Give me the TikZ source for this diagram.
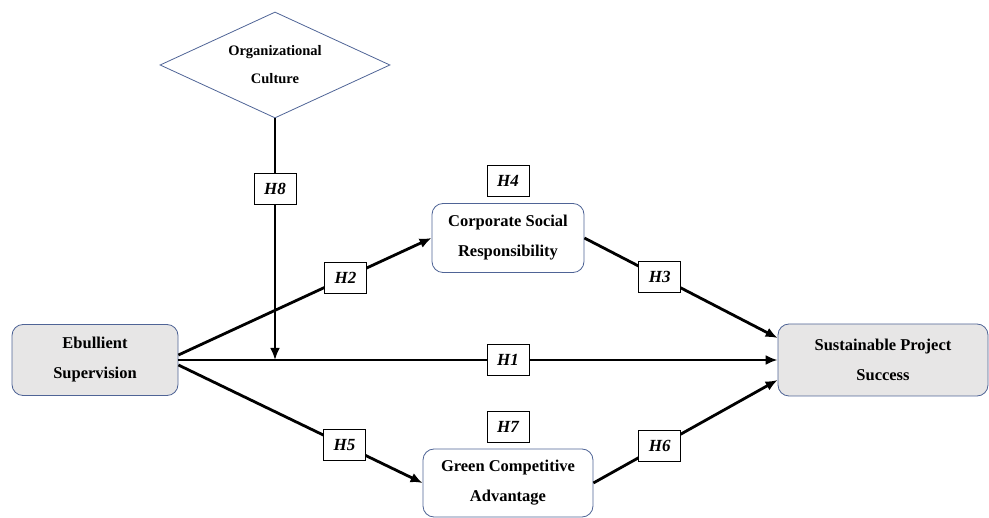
\documentclass[tikz,border=0pt]{standalone}
\usepackage{fontspec}
\setmainfont{Liberation Serif}
\usetikzlibrary{shapes.geometric,arrows.meta}
\definecolor{bordc}{HTML}{4F6496}
\definecolor{grayfill}{HTML}{E7E6E6}
\tikzset{
  mainbox/.style={draw=bordc, line width=0.8pt, rounded corners=11pt, align=center,
    font=\fontsize{16.5pt}{30pt}\selectfont\bfseries, inner sep=0pt},
  graybox/.style={mainbox, fill=grayfill},
  whitebox/.style={mainbox, fill=white},
  hyp/.style={draw=black, line width=0.7pt, fill=white, minimum width=42pt, minimum height=31pt,
    inner sep=0pt, font=\fontsize{17pt}{18pt}\selectfont\bfseries\itshape},
  conn/.style={line width=2.8pt, -{Latex[length=12pt,width=10pt]}},
}
\begin{document}
\begin{tikzpicture}[x=1pt,y=-1pt]
\useasboundingbox (0,0) rectangle (989,518);
\node[draw=bordc, line width=0.8pt, shape=diamond, aspect=2.17, minimum width=230pt, minimum height=106pt,
  inner sep=0pt, align=center, font=\fontsize{14.5pt}{28pt}\selectfont\bfseries] (oc) at (275,65) {Organizational\\Culture};
\node[graybox, minimum width=166pt, minimum height=71pt] (eb) at (95,360) {Ebullient\\Supervision};
\node[whitebox, minimum width=152pt, minimum height=69pt] (csr) at (508,238) {Corporate Social\\Responsibility};
\node[whitebox, minimum width=170pt, minimum height=68pt] (gca) at (508,483) {Green Competitive\\Advantage};
\node[graybox, minimum width=210pt, minimum height=72pt] (sps) at (883,360) {Sustainable Project\\Success};
\node[hyp] (h4) at (508,181) {H4};
\node[hyp] (h7) at (508,427) {H7};
\coordinate (j) at (oc.south |- eb.east);
\draw[conn] ([yshift=5pt]eb.east) -- (csr.west) node[hyp, pos=0.66] (h2) {H2};
\draw[conn] (eb.east) -- (sps.west) node[hyp, pos=0.55] (h1) {H1};
\draw[conn] ([yshift=-5pt]eb.east) -- (gca.west) node[hyp, pos=0.68] (h5) {H5};
\draw[conn] (csr.east) -- ([yshift=22pt]sps.west) node[hyp, pos=0.39] (h3) {H3};
\draw[conn] (gca.east) -- ([yshift=-20pt]sps.west) node[hyp, pos=0.36] (h6) {H6};
\draw[conn] (oc.south) -- (j) node[hyp, pos=0.29] (h8) {H8};
\end{tikzpicture}
\end{document}
